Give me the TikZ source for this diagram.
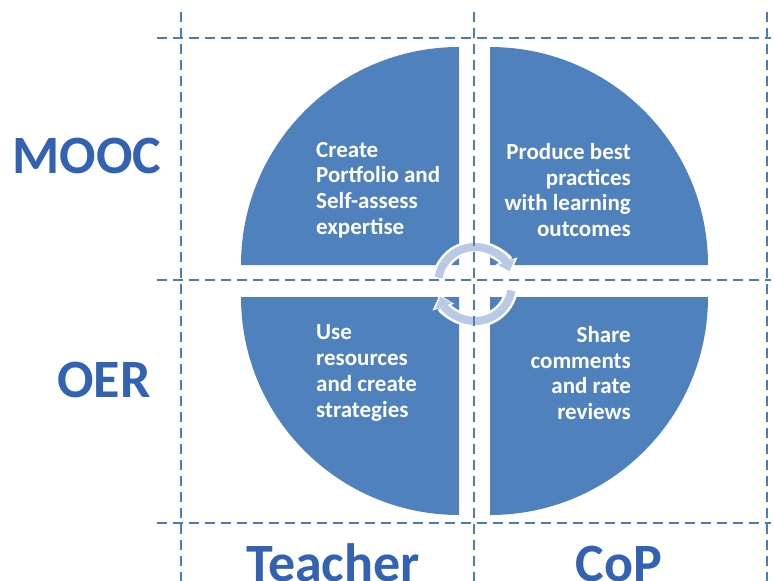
\documentclass[tikz,border=0pt]{standalone}
\usepackage{fontspec}
\setmainfont{Carlito}
\usetikzlibrary{arrows.meta}
\definecolor{qblue}{RGB}{79,129,189}
\definecolor{dblue}{RGB}{74,126,187}
\definecolor{lblue}{RGB}{52,98,178}
\definecolor{ring}{RGB}{186,201,228}
\begin{document}
\begin{tikzpicture}[x=1pt,y=-1pt,
  quad/.style={fill=qblue},
  qtext/.style={text=white,font=\fontsize{23}{25.7}\selectfont\bfseries,inner sep=0pt},
  axlabel/.style={text=lblue,font=\fontsize{54}{60}\selectfont\bfseries,inner sep=0pt},
  dline/.style={draw=dblue,line width=2pt,dash pattern=on 10pt off 6pt},
  ringw/.style={draw=white,line width=13pt},
  ringb/.style={draw=ring,line width=8pt}]
\useasboundingbox (0,0) rectangle (774,581);
% quadrants
\fill[quad] (459,265) -- (241,265) arc[start angle=180,end angle=270,radius=218] -- cycle;
\fill[quad] (490,265) -- (708,265) arc[start angle=0,end angle=-90,radius=218] -- cycle;
\fill[quad] (459,297) -- (241,297) arc[start angle=180,end angle=90,radius=218] -- cycle;
\fill[quad] (490,297) -- (708,297) arc[start angle=0,end angle=90,radius=218] -- cycle;
% cycle arrows
\coordinate (c) at (475,284);
\draw[ringw,-{Triangle[width=22pt,length=13pt]}] ([shift={(190:37)}]c) arc[start angle=190,end angle=343,radius=37];
\draw[ringw,-{Triangle[width=22pt,length=13pt]}] ([shift={(10:37)}]c) arc[start angle=10,end angle=163,radius=37];
\draw[ringb,-{Triangle[width=17pt,length=10pt]}] ([shift={(190:37)}]c) arc[start angle=190,end angle=340,radius=37];
\draw[ringb,-{Triangle[width=17pt,length=10pt]}] ([shift={(10:37)}]c) arc[start angle=10,end angle=160,radius=37];
% dashed grid
\coordinate (v1t) at (181,12); \coordinate (v1b) at (181,581);
\coordinate (v2t) at (474,12); \coordinate (v2b) at (474,581);
\coordinate (v3t) at (767,12); \coordinate (v3b) at (767,581);
\coordinate (h1l) at (157,38); \coordinate (h1r) at (771,38);
\coordinate (h2l) at (157,280); \coordinate (h2r) at (771,280);
\coordinate (h3l) at (157,523); \coordinate (h3r) at (771,523);
\draw[dline] (v1t) -- (v1b);
\draw[dline] (v2t) -- (v2b);
\draw[dline] (v3t) -- (v3b);
\draw[dline] (h1l) -- (h1r);
\draw[dline] (h2l) -- (h2r);
\draw[dline] (h3l) -- (h3r);
% quadrant texts
\node[qtext,align=left,anchor=west] (tl) at (316,190) {Create\\Portfolio and\\Self-assess\\expertise};
\node[qtext,align=right,anchor=east] (tr) at (631,190) {Produce best\\practices\\with learning\\outcomes};
\node[qtext,align=left,anchor=west] (bl) at (316,373) {Use\\resources\\and create\\strategies};
\node[qtext,align=right,anchor=east] (br) at (631,373) {Share\\comments\\and rate\\reviews};
% axis labels
\node[axlabel,anchor=base] (mooc) at (87,173) {MOOC};
\node[axlabel,anchor=base] (oer) at (104,397) {OER};
\node[axlabel,anchor=base] (teacher) at (333,581) {Teacher};
\node[axlabel,anchor=base] (cop) at (619,581) {CoP};
\end{tikzpicture}
\end{document}
